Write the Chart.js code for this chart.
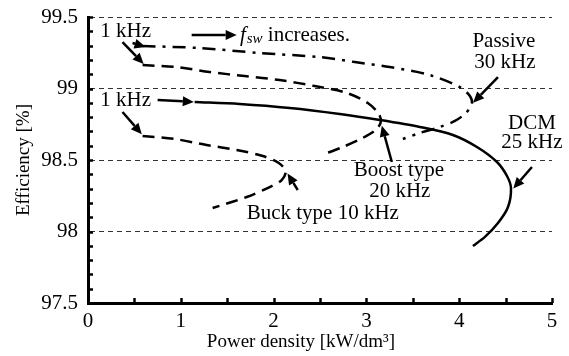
<!DOCTYPE html>
<html>
<head>
<meta charset="utf-8">
<script src="https://cdn.jsdelivr.net/npm/chart.js@4"></script>
<style>
  html, body { margin: 0; padding: 0; background: #fff; }
  #wrap { width: 569px; height: 356px; position: relative; }
</style>
</head>
<body>
<div id="wrap"><canvas id="c" width="569" height="356"></canvas></div>
<script>
// ---- data ----
const passiveX = [0.588, 1.203, 1.850, 2.497, 2.875, 3.252, 3.684, 4.007, 4.115, 4.137, 4.072, 3.954, 3.792, 3.576, 3.393];
const passiveY = [99.297, 99.283, 99.248, 99.220, 99.185, 99.150, 99.094, 99.010, 98.948, 98.892, 98.829, 98.773, 98.731, 98.689, 98.647];

const boostX = [0.588, 0.955, 1.311, 1.688, 2.066, 2.443, 2.789, 3.015, 3.134, 3.155, 3.101, 2.961, 2.746, 2.519];
const boostY = [99.164, 99.150, 99.115, 99.087, 99.059, 99.017, 98.969, 98.899, 98.822, 98.766, 98.710, 98.654, 98.591, 98.535];

const buckX = [0.588, 0.933, 1.278, 1.602, 1.883, 2.055, 2.131, 2.087, 1.958, 1.710, 1.343];
const buckY = [98.668, 98.647, 98.605, 98.570, 98.528, 98.479, 98.423, 98.360, 98.311, 98.241, 98.164];

const dcmX = [1.149, 1.634, 2.174, 2.713, 3.145, 3.576, 3.932, 4.191, 4.407, 4.515, 4.558, 4.526, 4.418, 4.277, 4.148];
const dcmY = [98.906, 98.892, 98.864, 98.822, 98.780, 98.731, 98.675, 98.591, 98.486, 98.388, 98.304, 98.171, 98.059, 97.962, 97.899];

const xTicks = [0, 1, 2, 3, 4, 5];
const yTicks = [97.5, 98, 98.5, 99, 99.5];
const gridValues = [98, 98.5, 99, 99.5];
const xTitle = 'Power density [kW/dm³]';
const yTitle = 'Efficiency [%]';

// annotation texts (anchored in data coordinates)
const labelTexts = [
  { t: '1 kHz', x: 0.405, y: 99.402 },
  { t: '1 kHz', x: 0.405, y: 98.913 },
  { t: 'Passive', x: 4.482, y: 99.332 },
  { t: '30 kHz', x: 4.493, y: 99.185 },
  { t: 'DCM', x: 4.784, y: 98.752 },
  { t: '25 kHz', x: 4.784, y: 98.619 },
  { t: 'Boost type', x: 3.350, y: 98.430 },
  { t: '20 kHz', x: 3.360, y: 98.283 },
  { t: 'Buck type 10 kHz', x: 2.530, y: 98.129 }
];
const arrows = [
  [0.48, 99.318, 0.62, 99.291],
  [0.372, 99.325, 0.60, 99.171],
  [0.750, 98.920, 1.140, 98.906],
  [0.372, 98.836, 0.58, 98.680],
  [1.117, 99.374, 1.602, 99.374],
  [4.418, 99.080, 4.150, 98.900],
  [4.784, 98.451, 4.583, 98.300],
  [3.274, 98.486, 3.166, 98.740],
  [2.260, 98.290, 2.150, 98.405]
];
const fswAnchor = { x: 1.637, y: 99.374 };

const FONT = "'Liberation Serif', 'Times New Roman', serif";
Chart.defaults.font.family = FONT;
Chart.defaults.color = '#000';

function pts(xs, ys) { return xs.map((x, i) => ({ x: x, y: ys[i] })); }

const annotationPlugin = {
  id: 'annot',
  afterDatasetsDraw(chart) {
    const ctx = chart.ctx, xs = chart.scales.x, ys = chart.scales.y;
    const ca = chart.chartArea;
    ctx.save();
    // inward minor ticks
    ctx.strokeStyle = '#000';
    ctx.lineWidth = 2.5;
    ctx.beginPath();
    for (let k = 0; k <= 20; k++) {
      const v = 97.5 + k * 0.1;
      const py = Math.round(ys.getPixelForValue(v)) + 0.5;
      ctx.moveTo(ca.left, py); ctx.lineTo(ca.left + 5, py);
    }
    for (let k = 0; k <= 10; k++) {
      const v = k * 0.5;
      const px = Math.round(xs.getPixelForValue(v)) + 0.5;
      ctx.moveTo(px, ca.bottom); ctx.lineTo(px, ca.bottom - 5);
    }
    ctx.stroke();

    // x axis title (slightly left of centre, as in the reference)
    ctx.fillStyle = '#000';
    ctx.textBaseline = 'middle';
    ctx.textAlign = 'center';
    ctx.font = '19px ' + FONT;
    ctx.fillText(xTitle, (ca.left + ca.right) / 2 - 19, xs.bottom - 14);

    // texts
    ctx.font = '21px ' + FONT;
    labelTexts.forEach(l => {
      ctx.fillText(l.t, xs.getPixelForValue(l.x), ys.getPixelForValue(l.y));
    });
    // f_sw increases.
    let fx = xs.getPixelForValue(fswAnchor.x), fy = ys.getPixelForValue(fswAnchor.y);
    ctx.textAlign = 'left';
    ctx.font = 'italic 21px ' + FONT;
    ctx.fillText('f', fx, fy);
    fx += ctx.measureText('f').width + 1;
    ctx.font = 'italic 15px ' + FONT;
    ctx.fillText('sw', fx, fy + 4);
    fx += ctx.measureText('sw').width;
    ctx.font = '21px ' + FONT;
    ctx.fillText(' increases.', fx, fy);

    // arrows
    arrows.forEach(a => {
      const x1 = xs.getPixelForValue(a[0]), y1 = ys.getPixelForValue(a[1]);
      const x2 = xs.getPixelForValue(a[2]), y2 = ys.getPixelForValue(a[3]);
      const ang = Math.atan2(y2 - y1, x2 - x1);
      const hl = 11, hw = 5;
      const bx = x2 - hl * Math.cos(ang), by = y2 - hl * Math.sin(ang);
      ctx.strokeStyle = '#000';
      ctx.lineWidth = 2.5;
      ctx.setLineDash([]);
      ctx.beginPath();
      ctx.moveTo(x1, y1); ctx.lineTo(bx, by);
      ctx.stroke();
      ctx.beginPath();
      ctx.moveTo(x2, y2);
      ctx.lineTo(bx + hw * Math.sin(ang), by - hw * Math.cos(ang));
      ctx.lineTo(bx - hw * Math.sin(ang), by + hw * Math.cos(ang));
      ctx.closePath();
      ctx.fillStyle = '#000';
      ctx.fill();
    });
    ctx.restore();
  }
};

const lineBase = { showLine: true, pointRadius: 0, borderColor: '#000', borderWidth: 2.5, tension: 0.3, fill: false };

new Chart(document.getElementById('c'), {
  type: 'scatter',
  data: {
    datasets: [
      Object.assign({ label: 'Passive 30 kHz', data: pts(passiveX, passiveY), borderDash: [13, 7, 3, 7] }, lineBase),
      Object.assign({ label: 'Boost type 20 kHz', data: pts(boostX, boostY), borderDash: [12, 7] }, lineBase),
      Object.assign({ label: 'Buck type 10 kHz', data: pts(buckX, buckY), borderDash: [12, 7] }, lineBase),
      Object.assign({ label: 'DCM 25 kHz', data: pts(dcmX, dcmY) }, lineBase)
    ]
  },
  options: {
    responsive: false,
    animation: false,
    devicePixelRatio: 1,
    layout: { padding: { top: 17, right: 17, left: 0, bottom: 0 } },
    plugins: { legend: { display: false }, tooltip: { enabled: false } },
    scales: {
      x: {
        type: 'linear', min: 0, max: 5,
        afterFit(s) { s.height = 53; s.paddingLeft = 0; s.paddingRight = 0; },
        afterBuildTicks(s) { s.ticks = xTicks.map(v => ({ value: v })); },
        ticks: { color: '#000', font: { family: FONT, size: 21 }, padding: 6, maxRotation: 0 },
        grid: { display: false, drawTicks: false },
        border: { display: true, color: '#000', width: 3 },
        title: { display: false }
      },
      y: {
        type: 'linear', min: 97.5, max: 99.5,
        afterFit(s) { s.width = 88; s.paddingTop = 0; s.paddingBottom = 0; },
        afterBuildTicks(s) { s.ticks = yTicks.map(v => ({ value: v })); },
        ticks: { color: '#000', font: { family: FONT, size: 21 }, padding: 10, callback: v => String(v) },
        grid: {
          drawTicks: false, lineWidth: 1,
          color: ctx => gridValues.some(g => Math.abs(g - ctx.tick.value) < 1e-6) ? '#333' : 'rgba(0,0,0,0)'
        },
        border: { display: true, color: '#000', width: 3, dash: [5, 4] },
        title: { display: true, text: yTitle, color: '#000', font: { family: FONT, size: 19 }, padding: { top: 13, bottom: 0 } }
      }
    }
  },
  plugins: [annotationPlugin]
});
</script>
</body>
</html>
